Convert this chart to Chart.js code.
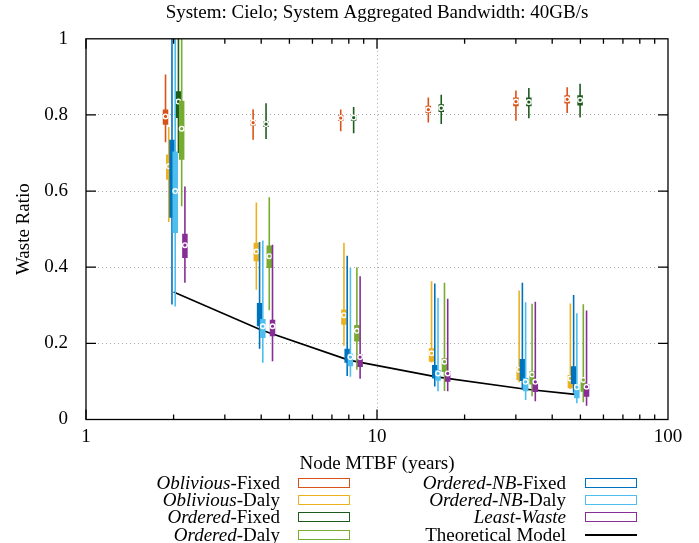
<!DOCTYPE html>
<html>
<head>
<meta charset="utf-8">
<script src="https://cdn.jsdelivr.net/npm/chart.js@4.4.1/dist/chart.umd.min.js"></script>
<style>
  body { margin: 0; background: #fff; }
  #wrap { position: relative; width: 699px; height: 543px; font-family: "Liberation Serif", "Times New Roman", serif; color: #000; }
  #chart { position: absolute; left: 0; top: 0; }
  .lg-text { position: absolute; font-size: 19px; line-height: 20px; white-space: nowrap; text-align: right; }
  .lg-box { position: absolute; width: 52px; height: 10px; box-sizing: border-box; }
</style>
</head>
<body>
<div id="wrap">
  <canvas id="chart" width="699" height="543"></canvas>
</div>
<script>
const mtbf = [2, 4, 8, 16, 32, 48];
const xTicks = [1, 10, 100];
const theoretical = [0.335, 0.235, 0.156, 0.112, 0.080, 0.066];

// one row per MTBF: [low whisker, q1, median, q3, high whisker]
const obliviousFixed = [
  [0.728, 0.774, 0.796, 0.814, 0.906],
  [0.735, 0.772, 0.780, 0.787, 0.815],
  [0.757, 0.784, 0.792, 0.800, 0.814],
  [0.780, 0.805, 0.814, 0.824, 0.846],
  [0.785, 0.823, 0.835, 0.846, 0.864],
  [0.805, 0.830, 0.841, 0.852, 0.873],
];
const obliviousDaly = [
  [0.519, 0.630, 0.665, 0.696, 0.768],
  [0.341, 0.416, 0.441, 0.464, 0.570],
  [0.194, 0.249, 0.274, 0.289, 0.464],
  [0.150, 0.152, 0.174, 0.187, 0.363],
  [0.098, 0.103, 0.131, 0.138, 0.339],
  [0.080, 0.082, 0.108, 0.117, 0.305],
];
const orderedFixed = [
  [0.700, 0.792, 0.835, 0.862, 1.000],
  [0.737, 0.768, 0.776, 0.783, 0.831],
  [0.752, 0.785, 0.793, 0.800, 0.821],
  [0.776, 0.808, 0.818, 0.828, 0.853],
  [0.791, 0.823, 0.834, 0.846, 0.871],
  [0.793, 0.825, 0.839, 0.852, 0.882],
];
const orderedDaly = [
  [0.560, 0.682, 0.764, 0.837, 1.000],
  [0.287, 0.398, 0.429, 0.457, 0.584],
  [0.131, 0.205, 0.233, 0.248, 0.400],
  [0.075, 0.125, 0.152, 0.161, 0.359],
  [0.061, 0.092, 0.118, 0.127, 0.304],
  [0.045, 0.073, 0.104, 0.108, 0.303],
];
const orderedNBFixed = [
  [0.302, 0.530, 0.640, 0.735, 1.000],
  [0.186, 0.245, 0.270, 0.306, 0.466],
  [0.114, 0.149, 0.165, 0.186, 0.430],
  [0.087, 0.108, 0.125, 0.143, 0.357],
  [0.079, 0.101, 0.120, 0.159, 0.359],
  [0.070, 0.093, 0.115, 0.140, 0.327],
];
const orderedNBDaly = [
  [0.297, 0.490, 0.600, 0.704, 1.000],
  [0.149, 0.214, 0.245, 0.264, 0.470],
  [0.112, 0.140, 0.164, 0.173, 0.398],
  [0.074, 0.102, 0.121, 0.130, 0.319],
  [0.051, 0.074, 0.099, 0.109, 0.308],
  [0.043, 0.056, 0.085, 0.091, 0.279],
];
const leastWaste = [
  [0.359, 0.424, 0.458, 0.488, 0.612],
  [0.153, 0.219, 0.245, 0.262, 0.459],
  [0.107, 0.138, 0.164, 0.171, 0.376],
  [0.074, 0.099, 0.121, 0.127, 0.317],
  [0.048, 0.072, 0.099, 0.103, 0.309],
  [0.036, 0.060, 0.086, 0.093, 0.286],
];

// slot = horizontal position inside a group, drawn in this order
const series = [
  { it: 'Oblivious', rest: '-Fixed', data: obliviousFixed, color: '#D95319', slot: 0 },
  { it: 'Oblivious', rest: '-Daly', data: obliviousDaly, color: '#EDB120', slot: 1 },
  { it: 'Ordered', rest: '-Fixed', data: orderedFixed, color: '#1E5C1E', slot: 4 },
  { it: 'Ordered', rest: '-Daly', data: orderedDaly, color: '#77AC30', slot: 5 },
  { it: 'Ordered-NB', rest: '-Fixed', data: orderedNBFixed, color: '#0072BD', slot: 2, hideMedian: true },
  { it: 'Ordered-NB', rest: '-Daly', data: orderedNBDaly, color: '#4DBEEE', slot: 3 },
  { it: 'Least-Waste', rest: '', data: leastWaste, color: '#862D96', slot: 6 },
];

const step = 1.0259; // multiplicative spacing between boxes of a group (log axis)

function segs(s, a, b) {
  const out = [];
  mtbf.forEach((m, i) => {
    const x = m * Math.pow(step, s.slot - 2.5);
    out.push({ x: x, y: s.data[i][a] }, { x: x, y: s.data[i][b] }, { x: x, y: null });
  });
  return out;
}

const datasets = [{
  data: mtbf.map((m, i) => ({ x: m, y: theoretical[i] })),
  borderColor: '#000', borderWidth: 1.6, pointRadius: 0
}];
series.forEach(s => {
  datasets.push({ data: segs(s, 0, 4), borderColor: s.color, borderWidth: 1.6, pointRadius: 0, borderCapStyle: 'butt' });
  datasets.push({ data: segs(s, 1, 3), borderColor: s.color, borderWidth: 5.5, pointRadius: 0, borderCapStyle: 'butt' });
  datasets.push({
    data: mtbf.map((m, i) => ({ x: m * Math.pow(step, s.slot - 2.5), y: s.data[i][2] })),
    showLine: false, pointRadius: s.hideMedian ? 0 : 2.3, pointBorderWidth: 1.4,
    pointBorderColor: '#fff', pointBackgroundColor: s.color
  });
});
// later datasets on top
datasets.forEach((d, i) => { d.order = datasets.length - i; d.spanGaps = false; d.clip = 0; });

const frame = {
  id: 'frame',
  afterDraw(chart) {
    const { ctx, chartArea: a, scales: { x, y } } = chart;
    ctx.save();
    ctx.strokeStyle = '#000';
    ctx.lineWidth = 1.3;
    ctx.strokeRect(a.left, a.top, a.right - a.left, a.bottom - a.top);
    ctx.beginPath();
    for (let v = 0.2; v < 1; v += 0.2) {
      const py = y.getPixelForValue(v);
      ctx.moveTo(a.left, py); ctx.lineTo(a.left + 10, py);
      ctx.moveTo(a.right, py); ctx.lineTo(a.right - 10, py);
    }
    [1, 10].forEach(d => {
      for (let k = 1; k <= 9; k++) {
        const px = x.getPixelForValue(d * k);
        const len = k === 1 ? 10 : 5;
        ctx.moveTo(px, a.bottom); ctx.lineTo(px, a.bottom - len);
        ctx.moveTo(px, a.top); ctx.lineTo(px, a.top + len);
      }
    });
    ctx.stroke();
    ctx.restore();
  }
};

const serif = '"Liberation Serif", "Times New Roman", serif';
const gridColor = '#a8a8a8';

new Chart(document.getElementById('chart'), {
  type: 'line',
  data: { datasets: datasets },
  options: {
    responsive: false,
    animation: false,
    events: [],
    layout: { padding: { left: 0, right: 31, top: 0, bottom: 68 } },
    plugins: {
      legend: { display: false },
      tooltip: { enabled: false },
      title: {
        display: true,
        fullSize: false,
        text: 'System: Cielo; System Aggregated Bandwidth: 40GB/s',
        color: '#000',
        font: { family: serif, size: 19, weight: 'normal' },
        padding: { top: 2, bottom: 14 }
      }
    },
    scales: {
      x: {
        type: 'logarithmic',
        min: 1, max: 100,
        afterBuildTicks: s => { s.ticks = xTicks.map(v => ({ value: v })); },
        afterFit: s => { s.height = 55.5; },
        ticks: {
          color: '#000', font: { family: serif, size: 19 }, padding: 6, maxRotation: 0, autoSkip: false,
          callback: v => String(v)
        },
        grid: {
          drawTicks: false, lineWidth: 1,
          color: c => (c.tick && c.tick.value === 10) ? gridColor : 'rgba(0,0,0,0)'
        },
        border: { display: false, dash: [1, 3] },
        title: {
          display: true, text: 'Node MTBF (years)', color: '#000',
          font: { family: serif, size: 19 }, padding: { top: 0, bottom: 0 }
        }
      },
      y: {
        min: 0, max: 1,
        afterFit: s => { s.width = 86; },
        ticks: {
          stepSize: 0.2, color: '#000', font: { family: serif, size: 19 }, padding: 18,
          callback: v => String(Math.round(v * 10) / 10)
        },
        grid: {
          drawTicks: false, lineWidth: 1,
          color: c => (c.tick && c.tick.value > 0.01 && c.tick.value < 0.99) ? gridColor : 'rgba(0,0,0,0)'
        },
        border: { display: false, dash: [1, 3] },
        title: {
          display: true, text: 'Waste Ratio', color: '#000',
          font: { family: serif, size: 19 }, padding: { top: 12.6, bottom: 0 }
        }
      }
    }
  },
  plugins: [frame]
});

// legend: two columns, label right-aligned, outlined swatch to its right
const wrap = document.getElementById('wrap');
const rows = [482.7, 500, 517.3, 534.7];
const cols = [{ textRight: 280, swatch: 298 }, { textRight: 566, swatch: 585 }];
const entries = series.map(s => ({ html: '<i>' + s.it + '</i>' + s.rest, color: s.color }));
entries.push({ html: 'Theoretical Model', color: '#000', line: true });
entries.forEach((e, i) => {
  const col = cols[i < 4 ? 0 : 1];
  const cy = rows[i % 4];
  const t = document.createElement('div');
  t.className = 'lg-text';
  t.innerHTML = e.html;
  t.style.right = (699 - col.textRight) + 'px';
  t.style.top = (cy - 10) + 'px';
  wrap.appendChild(t);
  const b = document.createElement('div');
  b.className = 'lg-box';
  b.style.left = col.swatch + 'px';
  if (e.line) {
    b.style.top = (cy - 1) + 'px';
    b.style.height = '2px';
    b.style.background = e.color;
  } else {
    b.style.top = (cy - 5) + 'px';
    b.style.border = '1.6px solid ' + e.color;
  }
  wrap.appendChild(b);
});
</script>
</body>
</html>
